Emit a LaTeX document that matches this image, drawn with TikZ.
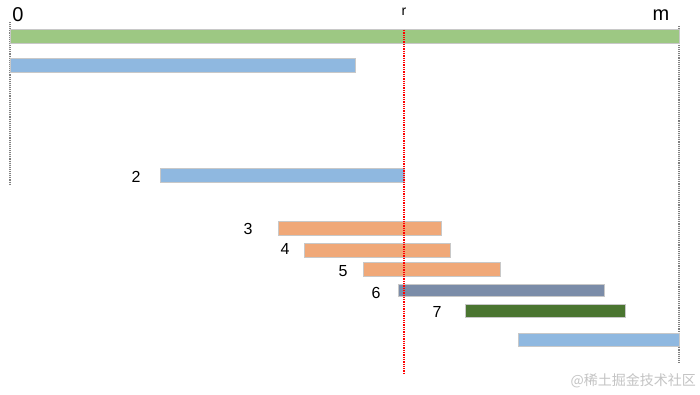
\documentclass[tikz,border=0pt]{standalone}
\usepackage{fontspec}
\setmainfont{Liberation Sans}
\newfontfamily\cjk{Noto Sans CJK SC}
\definecolor{barGreen}{HTML}{9DC883}
\definecolor{barBlue}{HTML}{8FB8E0}
\definecolor{barOrange}{HTML}{F0A878}
\definecolor{barSlate}{HTML}{7B8CA8}
\definecolor{barDark}{HTML}{4A7530}
\definecolor{edgeGray}{HTML}{C8C8C8}
\definecolor{wm}{HTML}{C4C4C4}
\begin{document}
\begin{tikzpicture}[x=1pt,y=-1pt,
  bar/.style={draw=edgeGray,line width=1pt},
  num/.style={font=\fontsize{16}{16}\selectfont,inner sep=0pt},
  guide/.style={gray,densely dotted,line width=1.1pt},
  rline/.style={red,densely dotted,line width=1.3pt}]
\useasboundingbox (0,0) rectangle (700,395);
\fill[white] (0,0) rectangle (700,395);
% guides
\coordinate (lg1) at (10,22); \coordinate (lg2) at (10,184);
\coordinate (rg1) at (679,26); \coordinate (rg2) at (679,364);
\draw[guide] (lg1) -- (lg2);
\draw[guide] (rg1) -- (rg2);
% bars
\path[bar,fill=barGreen] (10,30) rectangle (679,44);
\path[bar,fill=barBlue] (10,59) rectangle (355,73);
\path[bar,fill=barBlue] (160,169) rectangle (404,183);
\path[bar,fill=barOrange] (278,221) rectangle (441,235);
\path[bar,fill=barOrange] (304,243) rectangle (450,257);
\path[bar,fill=barOrange] (363,262) rectangle (500,276);
\path[bar,fill=barSlate] (398,284) rectangle (604,296);
\path[bar,fill=barDark] (465,304) rectangle (625,317);
\path[bar,fill=barBlue] (518,333) rectangle (679,346);
% red line
\coordinate (r1) at (404,30); \coordinate (r2) at (404,373);
\draw[rline] (r1) -- (r2);
% labels
\node[num,font=\fontsize{20}{20}\selectfont] (l0) at (18,15) {0};
\node[num,font=\fontsize{20}{20}\selectfont] (lm) at (661,15) {m};
\node[num,font=\fontsize{14}{14}\selectfont] (lr) at (404,12) {r};
\node[num] (n2) at (136,177) {2};
\node[num] (n3) at (248,229) {3};
\node[num] (n4) at (285,249) {4};
\node[num] (n5) at (343,271) {5};
\node[num] (n6) at (376,293) {6};
\node[num] (n7) at (437,312) {7};
\node[inner sep=0pt,anchor=east,text=wm,font=\cjk\fontsize{14}{14}\selectfont] (wmk) at (696,381) {@稀土掘金技术社区};
\end{tikzpicture}
\end{document}
